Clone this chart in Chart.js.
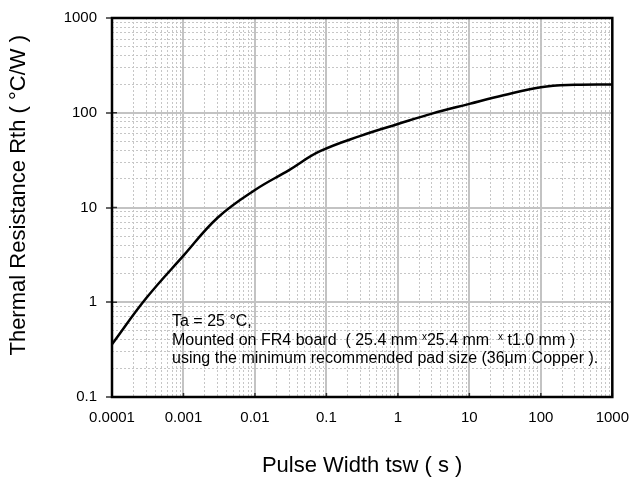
<!DOCTYPE html>
<html>
<head>
<meta charset="utf-8">
<script src="https://cdn.jsdelivr.net/npm/chart.js@4.4.1/dist/chart.umd.min.js"></script>
<style>
  html, body { margin: 0; padding: 0; background: #fff; }
  #wrap { width: 641px; height: 481px; }
</style>
</head>
<body>
<div id="wrap"><canvas id="rthChart"></canvas></div>
<script>
// pulse width (s) and thermal resistance (°C/W)
const pulseWidth = [0.0001, 0.0003, 0.001, 0.003, 0.01, 0.03, 0.08, 0.3, 1, 3, 10, 30, 100, 300, 1000];
const rth = [0.36, 1.1, 3.1, 7.8, 15.3, 24.8, 39, 57, 76, 98, 124, 153, 186, 197, 199];

const xTickLabels = ['0.0001', '0.001', '0.01', '0.1', '1', '10', '100', '1000'];
const yTickLabels = ['0.1', '1', '10', '100', '1000'];

const noteLines = [
  'Ta = 25 \u00B0C,',
  ['Mounted on FR4 board  ( 25.4 mm ', 'x', '25.4 mm  ', 'x', ' t1.0 mm )'],
  'using the minimum recommended pad size (36\u03BCm Copper ).'
];

const FONT = '"Liberation Sans", Arial, sans-serif';

// 1..9 per decade, majors at the labelled powers of ten
function decadeTicks(labels) {
  const out = [];
  const vals = labels.map(Number);
  for (let i = 0; i < vals.length - 1; i++) {
    for (let k = 1; k < 10; k++) {
      out.push({ value: +(vals[i] * k).toPrecision(6), major: k === 1 });
    }
  }
  out.push({ value: vals[vals.length - 1], major: true });
  return out;
}

function labelFor(labels, value) {
  const l = labels.find(s => Math.abs(Number(s) - value) < value * 1e-6);
  return l || '';
}

const isMajor = c => c.tick && c.tick.major;

const framePlugin = {
  id: 'frame',
  afterDatasetsDraw(chart) {
    const { ctx, chartArea: a, scales } = chart;
    ctx.save();
    // little inner tick stubs at the decades
    ctx.strokeStyle = '#333';
    ctx.lineWidth = 1.5;
    ctx.beginPath();
    yTickLabels.forEach(l => {
      const py = scales.y.getPixelForValue(Number(l));
      ctx.moveTo(a.left, py);
      ctx.lineTo(a.left + 5, py);
    });
    xTickLabels.forEach(l => {
      const px = scales.x.getPixelForValue(Number(l));
      ctx.moveTo(px, a.bottom);
      ctx.lineTo(px, a.bottom - 4);
    });
    ctx.stroke();
    ctx.strokeStyle = '#000';
    ctx.lineWidth = 2.5;
    ctx.strokeRect(a.left, a.top, a.right - a.left, a.bottom - a.top);
    ctx.restore();
  },
  afterDraw(chart) {
    const { ctx, chartArea: a } = chart;
    const x0 = a.left + 60;
    let y = a.top + 304;
    ctx.save();
    ctx.fillStyle = '#000';
    ctx.textBaseline = 'middle';
    noteLines.forEach(line => {
      if (typeof line === 'string') {
        ctx.font = '16px ' + FONT;
        ctx.fillText(line, x0, y);
      } else {
        let x = x0;
        line.forEach((part, i) => {
          const small = i % 2 === 1;
          ctx.font = (small ? '10px ' : '16px ') + FONT;
          ctx.fillText(part, x, small ? y - 3 : y);
          x += ctx.measureText(part).width;
        });
      }
      y += 18.5;
    });
    ctx.restore();
  }
};

const gridOpts = {
  color: c => isMajor(c) ? '#c3c3c3' : '#c6c6c6',
  lineWidth: c => isMajor(c) ? 2 : 1
};

new Chart(document.getElementById('rthChart'), {
  type: 'line',
  data: {
    datasets: [{
      data: pulseWidth.map((x, i) => ({ x: x, y: rth[i] })),
      borderColor: '#000',
      borderWidth: 2.5,
      pointRadius: 0,
      fill: false,
      tension: 0.4
    }]
  },
  options: {
    responsive: true,
    maintainAspectRatio: false,
    animation: false,
    layout: { padding: { top: 14, right: 19, left: 0, bottom: 0 } },
    plugins: {
      legend: { display: false },
      tooltip: { enabled: false }
    },
    scales: {
      x: {
        type: 'logarithmic',
        min: 0.0001,
        max: 1000,
        afterBuildTicks: s => { s.ticks = decadeTicks(xTickLabels); },
        afterFit: s => { s.height = 84; },
        grid: Object.assign({ drawTicks: false }, gridOpts),
        border: { display: false, dash: c => isMajor(c) || !c.tick ? [] : [2, 2] },
        ticks: {
          autoSkip: false,
          maxRotation: 0,
          padding: 12,
          color: '#000',
          font: { family: FONT, size: 15 },
          callback: v => labelFor(xTickLabels, v)
        },
        title: {
          display: true,
          text: 'Pulse Width tsw ( s )',
          color: '#000',
          font: { family: FONT, size: 22 },
          padding: { top: 0, bottom: 2 }
        }
      },
      y: {
        type: 'logarithmic',
        min: 0.1,
        max: 1000,
        afterBuildTicks: s => { s.ticks = decadeTicks(yTickLabels); },
        afterFit: s => { s.width = 112; },
        grid: Object.assign({
          drawTicks: true,
          tickLength: 6,
          tickWidth: 1.5,
          tickColor: c => isMajor(c) ? '#333' : 'rgba(0,0,0,0)'
        }, gridOpts),
        border: { display: false, dash: c => isMajor(c) || !c.tick ? [] : [2, 2] },
        ticks: {
          autoSkip: false,
          padding: 9,
          color: '#000',
          font: { family: FONT, size: 15 },
          callback: v => labelFor(yTickLabels, v)
        },
        title: {
          display: true,
          // leading spaces nudge the rotated title upward like the original
          text: '    Thermal Resistance Rth ( \u00B0C/W )',
          color: '#000',
          font: { family: FONT, size: 22 },
          padding: { top: 6, bottom: 0 }
        }
      }
    }
  },
  plugins: [framePlugin]
});
</script>
</body>
</html>
